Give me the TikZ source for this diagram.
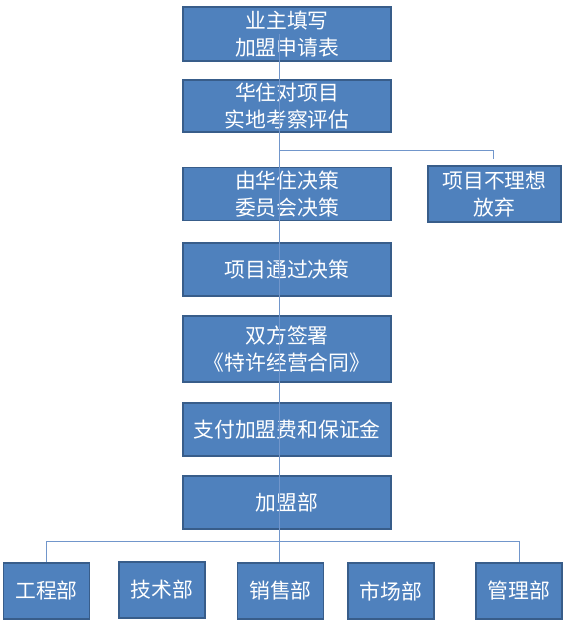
\documentclass[tikz,border=0pt]{standalone}
\usepackage{fontspec}
\newfontfamily\cjk{Noto Sans CJK SC}
\definecolor{boxfill}{HTML}{4F81BD}
\definecolor{boxline}{HTML}{385D8A}
\definecolor{connline}{HTML}{7196CB}
\begin{document}
\begin{tikzpicture}[x=1pt,y=-1pt,
  box/.style={draw=boxline,line width=1.8pt,fill=boxfill,text=white,
    font=\cjk\fontsize{20.8}{27}\selectfont,align=center,inner sep=0pt,
    minimum width=208pt},
  dept/.style={box,minimum width=86pt,minimum height=56pt},
  conn/.style={draw=connline,line width=0.9pt}]
\useasboundingbox (0,0) rectangle (563,621);
\node[box,minimum height=54pt] (b1) at (287,34) {业主填写\\加盟申请表};
\node[box,minimum height=52pt] (b2) at (287,106) {华住对项目\\实地考察评估};
\node[box,minimum height=53pt] (b3) at (287,194) {由华住决策\\委员会决策};
\node[box,minimum width=133pt,minimum height=56pt] (r1) at (494.5,194) {项目不理想\\放弃};
\node[box,minimum height=53pt] (b4) at (287,269.5) {项目通过决策};
\node[box,minimum height=66pt] (b5) at (287,349) {双方签署\\《特许经营合同》};
\node[box,minimum height=53pt] (b6) at (287,429.5) {支付加盟费和保证金};
\node[box,minimum height=53pt] (b7) at (287,502.5) {加盟部};
\node[dept] (d1) at (46.5,591) {工程部};
\node[dept] (d2) at (162,590) {技术部};
\node[dept] (d3) at (280.5,591) {销售部};
\node[dept] (d4) at (391,591) {市场部};
\node[dept] (d5) at (519,591) {管理部};
\coordinate (mx) at (279,0);
\coordinate (br) at (279,150);
\coordinate (ab) at (493,159);
\coordinate (bus) at (279,541);
\draw[conn] (b1.center -| mx) -- (b2.center -| mx);
\draw[conn] (b2.center -| mx) -- (b3.center -| mx);
\draw[conn] (br) -| (ab);
\draw[conn] (b3.center -| mx) -- (b4.center -| mx);
\draw[conn] (b4.center -| mx) -- (b5.center -| mx);
\draw[conn] (b5.center -| mx) -- (b6.center -| mx);
\draw[conn] (b6.center -| mx) -- (b7.center -| mx);
\draw[conn] (b7.center -| mx) -- (d3.north -| mx);
\draw[conn] (bus) -| (d1.north);
\draw[conn] (bus) -| (d5.north);
\end{tikzpicture}
\end{document}
